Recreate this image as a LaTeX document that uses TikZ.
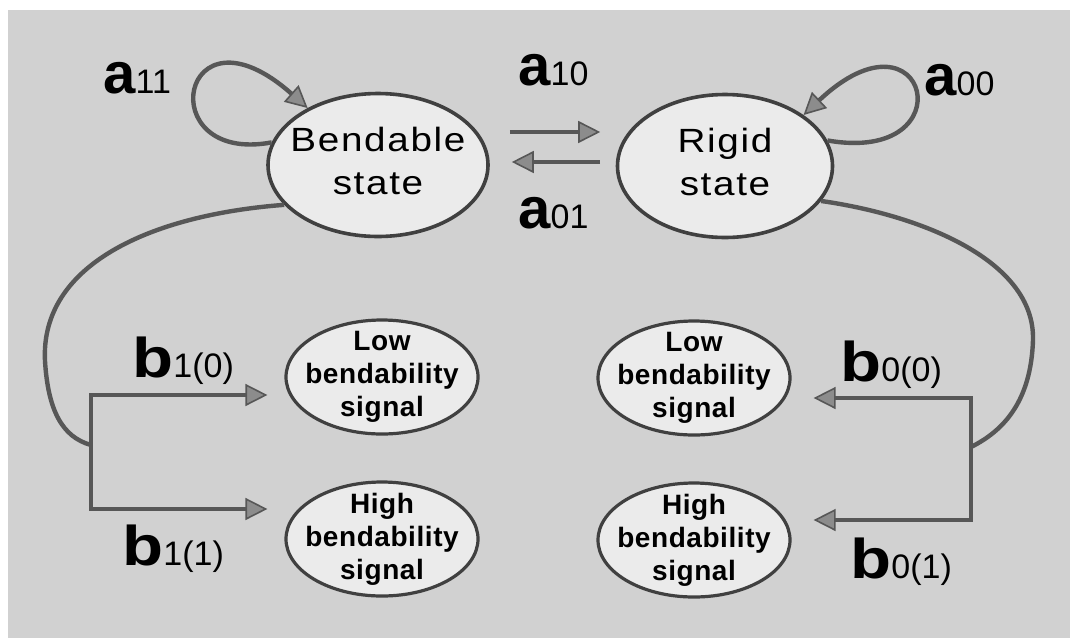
\documentclass[tikz,border=0pt]{standalone}
\usepackage{fontspec}
\setmainfont{Liberation Sans}
\newfontfamily\statefont[LetterSpace=5,FakeStretch=1.15]{Liberation Sans}
\newfontfamily\signalfont[LetterSpace=2]{Liberation Sans}
\newfontfamily\bletterfont[FakeStretch=1.2]{Liberation Sans}
\usetikzlibrary{arrows.meta,shapes.geometric,calc}

\definecolor{paper}{gray}{0.82}
\definecolor{bubble}{gray}{0.92}
\definecolor{rim}{gray}{0.25}
\definecolor{wire}{gray}{0.34}
\definecolor{headfill}{gray}{0.55}

\tikzset{
  state/.style={ellipse, draw=rim, line width=1.8pt, fill=bubble, inner sep=0pt,
    minimum width=110pt, minimum height=71.5pt},
  signal/.style={ellipse, draw=rim, line width=1.6pt, fill=bubble, inner sep=0pt,
    minimum width=96pt, minimum height=57pt},
  statetext/.style={align=center, inner sep=0pt,
    font=\statefont\fontsize{16.8}{21.5}\selectfont},
  signaltext/.style={align=center, inner sep=0pt,
    font=\signalfont\fontsize{14}{16.5}\selectfont\bfseries},
  wire/.style={draw=wire, line width=2.2pt},
  flow/.style={wire, -{Triangle[length=11pt,width=11pt,line width=0.8pt,fill=headfill]}},
  rate/.style={anchor=base west, inner sep=0pt},
}
% transition probability: big bold letter followed by plain indices
\newcommand{\arate}[1]{{\fontsize{29}{29}\selectfont\bfseries a}{\fontsize{17}{17}\selectfont #1}}
\newcommand{\brate}[1]{{\bletterfont\fontsize{28}{28}\selectfont\bfseries b}{\fontsize{17}{17}\selectfont #1}}

\begin{document}
\begin{tikzpicture}[x=0.5pt,y=-0.5pt]
\useasboundingbox (0,0) rectangle (1070,638);
\fill[paper] (8,10) rectangle (1070,638);

% hidden states
\node[state] (B) at (378,165) {};
\node[state, minimum width=107.5pt] (R) at (725,166) {};
\node[statetext] (Bt) at ([yshift=2pt]B.center) {Bendable\\state};
\node[statetext] (Rt) at ([yshift=2pt]R.center) {Rigid\\state};

% emitted signals
\node[signal] (LL) at (382,377) {};
\node[signal] (HL) at (382,539) {};
\node[signal] (LR) at (694,378) {};
\node[signal] (HR) at (694,540) {};
\node[signaltext] (LLt) at (LL) {Low\\bendability\\signal};
\node[signaltext] (HLt) at (HL) {High\\bendability\\signal};
\node[signaltext] (LRt) at (LR) {Low\\bendability\\signal};
\node[signaltext] (HRt) at (HR) {High\\bendability\\signal};

% self transitions
\draw[flow] (B.168) .. controls (150,165) and (180,-5) .. (B.141);
\draw[flow] (R.14) .. controls (968,165) and (928,-2) .. (R.33);

% transitions between the states
\draw[flow] ([shift={(20,-33)}]B.east) -- ([shift={(-15.5,-34)}]R.west);
\draw[flow] ([shift={(-15.5,-4)}]R.west) -- ([shift={(22,-3)}]B.east);

% emissions from the bendable state
\coordinate (jl) at (91,445);
\draw[wire] (B.203) .. controls (150,215) and (40,265) .. (45,361)
  .. controls (48,410) and (62,437) .. (jl);
\draw[flow] (jl) |- ([shift={(-17,18)}]LL.west);
\draw[flow] (jl) |- ([shift={(-17,-30)}]HL.west);

% emissions from the rigid state
\coordinate (jr) at (971,447);
\draw[wire] (R.340) .. controls (920,215) and (1035,260) .. (1033,340)
  .. controls (1031,400) and (1005,430) .. (jr);
\draw[flow] (jr) |- ([shift={(22,20)}]LR.east);
\draw[flow] (jr) |- ([shift={(22,-20)}]HR.east);

% probabilities
\node[rate] (a11) at (103,93) {\arate{11}};
\node[rate] (a10) at (518,85) {\arate{10}};
\node[rate] (a01) at (518,228) {\arate{01}};
\node[rate] (a00) at (924,95) {\arate{00}};
\node[rate] (b10) at (132,377) {\brate{1(0)}};
\node[rate] (b11) at (122,565) {\brate{1(1)}};
\node[rate] (b00) at (840,381) {\brate{0(0)}};
\node[rate] (b01) at (850,578) {\brate{0(1)}};
\end{tikzpicture}
\end{document}
